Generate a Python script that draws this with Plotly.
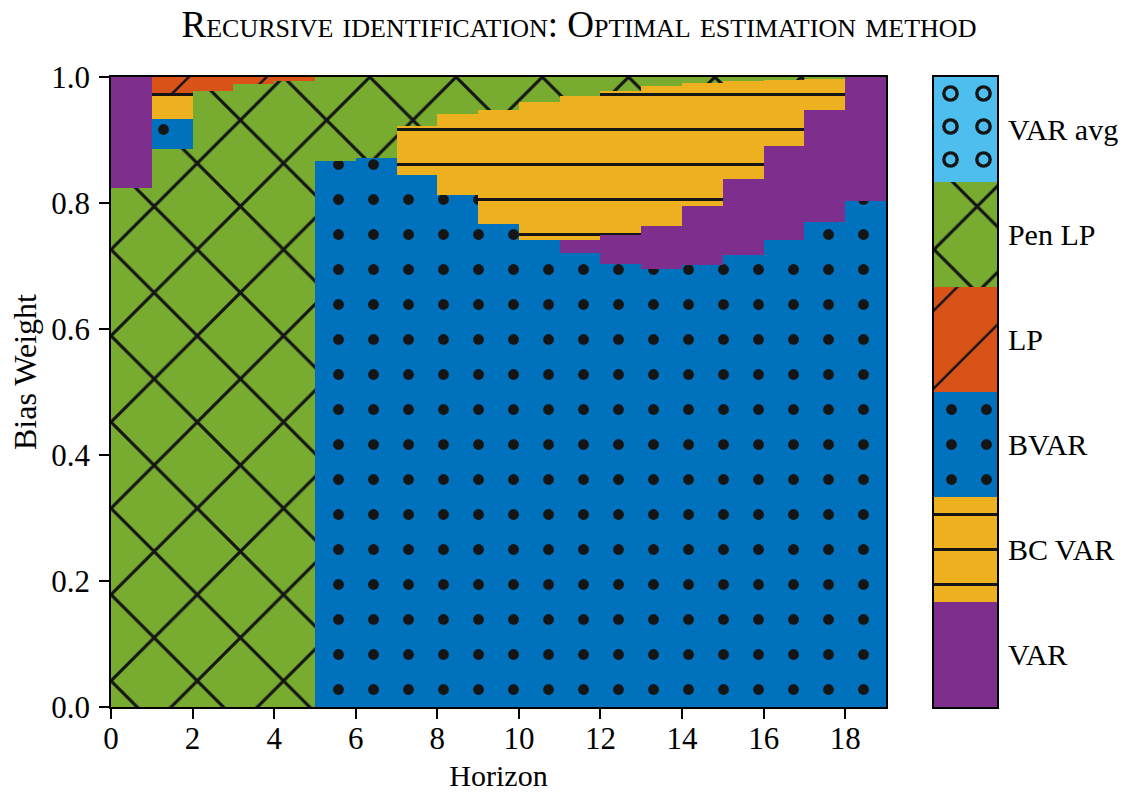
import plotly.graph_objects as go

# ---------------- data ----------------
methods = ["VAR", "BC VAR", "BVAR", "LP", "Pen LP", "VAR avg"]
colors = {"VAR": "#7E2F8E", "BC VAR": "#EDB120", "BVAR": "#0072BD",
          "LP": "#D95319", "Pen LP": "#77AC30", "VAR avg": "#4DBEEE"}

horizons = list(range(19))
# optimal method per horizon, stacked from bias weight 0 upward, with the upper bound of each band
col_methods = [
    ["Pen LP", "VAR"],
    ["Pen LP", "BVAR", "BC VAR", "LP"],
    ["Pen LP", "LP"],
    ["Pen LP", "LP"],
    ["Pen LP", "LP"],
    ["BVAR", "Pen LP"],
    ["BVAR", "Pen LP"],
    ["BVAR", "BC VAR", "Pen LP"],
    ["BVAR", "BC VAR", "Pen LP"],
    ["BVAR", "BC VAR", "Pen LP"],
    ["BVAR", "BC VAR", "Pen LP"],
    ["BVAR", "VAR", "BC VAR", "Pen LP"],
    ["BVAR", "VAR", "BC VAR", "Pen LP"],
    ["BVAR", "VAR", "BC VAR", "Pen LP"],
    ["BVAR", "VAR", "BC VAR", "Pen LP"],
    ["BVAR", "VAR", "BC VAR", "Pen LP"],
    ["BVAR", "VAR", "BC VAR", "Pen LP"],
    ["BVAR", "VAR", "BC VAR", "Pen LP"],
    ["BVAR", "VAR"],
]
col_tops = [
    [0.824, 1.0],
    [0.886, 0.934, 0.975, 1.0],
    [0.978, 1.0],
    [0.989, 1.0],
    [0.994, 1.0],
    [0.867, 1.0],
    [0.872, 1.0],
    [0.844, 0.922, 1.0],
    [0.812, 0.941, 1.0],
    [0.767, 0.948, 1.0],
    [0.741, 0.961, 1.0],
    [0.720, 0.741, 0.970, 1.0],
    [0.703, 0.749, 0.978, 1.0],
    [0.696, 0.764, 0.986, 1.0],
    [0.702, 0.796, 0.991, 1.0],
    [0.717, 0.838, 0.994, 1.0],
    [0.742, 0.890, 0.995, 1.0],
    [0.770, 0.948, 0.997, 1.0],
    [0.803, 1.0],
]
x_ticks = [0, 2, 4, 6, 8, 10, 12, 14, 16, 18]
y_ticks = [0.0, 0.2, 0.4, 0.6, 0.8, 1.0]

# ---------------- styles ----------------
HATCH = "#151515"
patterns = {
    "VAR": dict(shape=""),
    "BC VAR": dict(shape="-", size=35, solidity=0.08),
    "BVAR": dict(shape=".", size=35, solidity=0.075),
    "LP": dict(shape="/", size=55, solidity=0.045),
    "Pen LP": dict(shape="x", size=61, solidity=0.1),
    "VAR avg": dict(shape=".", size=33, solidity=0.2),
}
FONT = "Liberation Serif"

fig = go.Figure()

# main panel: one bar trace per method, each band is a bar with a base
for m in methods:
    xs, bases, heights = [], [], []
    for h, ms, tops in zip(horizons, col_methods, col_tops):
        lo = 0.0
        for mm, top in zip(ms, tops):
            if mm == m:
                xs.append(h + 0.5)
                bases.append(lo)
                heights.append(top - lo)
            lo = top
    if not xs:
        continue
    pat = dict(patterns[m])
    if pat["shape"]:
        pat.update(fgcolor=HATCH, fgopacity=1, bgcolor=colors[m])
    fig.add_trace(go.Bar(
        x=xs, y=heights, base=bases, width=1.0, name=m,
        marker=dict(color=colors[m], line=dict(width=0), pattern=pat),
        showlegend=False, xaxis="x", yaxis="y", hoverinfo="skip"))

# colorbar panel
for i, m in enumerate(methods):
    pat = dict(patterns[m])
    if pat["shape"]:
        pat.update(fgcolor=HATCH, fgopacity=1, bgcolor=colors[m])
    fig.add_trace(go.Bar(
        x=[0], y=[1], base=[i], width=1.0, name=m,
        marker=dict(color=colors[m], line=dict(width=0), pattern=pat),
        showlegend=False, xaxis="x2", yaxis="y2", hoverinfo="skip"))
    if m == "VAR avg":
        # inner part of the rings
        fig.add_trace(go.Bar(
            x=[0], y=[1], base=[i], width=1.0, name=m,
            marker=dict(color="rgba(0,0,0,0)", line=dict(width=0),
                        pattern=dict(shape=".", size=33, solidity=0.07,
                                     fgcolor=colors[m], fgopacity=1,
                                     bgcolor="rgba(0,0,0,0)")),
            showlegend=False, xaxis="x2", yaxis="y2", hoverinfo="skip"))

axis_common = dict(showline=True, linecolor="black", linewidth=1.8, mirror=True,
                   showgrid=False, zeroline=False, automargin=False)

W, H = 1125, 792
ML, MR, MT, MB = 111, 128, 77, 85
fig.update_layout(
    width=W, height=H,
    paper_bgcolor="white", plot_bgcolor="white",
    margin=dict(l=ML, r=MR, t=MT, b=MB, autoexpand=False),
    barmode="overlay", bargap=0,
    font=dict(family=FONT, size=31, color="black"),
    title=dict(text="Recursive identification: Optimal estimation method",
               font=dict(family=FONT, size=37, variant="small-caps", color="black"),
               x=579 / W, xref="container", xanchor="center",
               y=1 - 24 / H, yref="container", yanchor="middle"),
    xaxis=dict(domain=[0, 775 / 886], range=[0, 19], tickvals=x_ticks,
               ticks="outside", ticklen=10, tickwidth=1.8, tickcolor="black",
               ticklabelstandoff=-7,
               title=dict(text="Horizon", standoff=14, font=dict(size=30)),
               **axis_common),
    yaxis=dict(range=[0, 1], tickvals=y_ticks, tickformat=".1f",
               ticks="outside", ticklen=10, tickwidth=1.8, tickcolor="black",
               ticklabelstandoff=3,
               **axis_common),
    xaxis2=dict(domain=[823 / 886, 1], range=[-0.5, 0.5], showticklabels=False,
                ticks="", anchor="y2", **axis_common),
    yaxis2=dict(range=[0, 6], anchor="x2", side="right",
                tickvals=[i + 0.5 for i in range(len(methods))], ticktext=methods,
                tickfont=dict(size=30),
                ticks="", ticklabelstandoff=3, **axis_common),
    annotations=[dict(text="Bias Weight", textangle=-90, showarrow=False,
                      xref="paper", yref="paper",
                      x=(25 - ML) / (W - ML - MR), y=(H - MB - 372) / (H - MT - MB),
                      xanchor="center", yanchor="middle",
                      font=dict(family=FONT, size=32, color="black"))],
)

fig.write_html("out.html", config={"displayModeBar": False},
               post_script="document.body.style.margin='0px';")
